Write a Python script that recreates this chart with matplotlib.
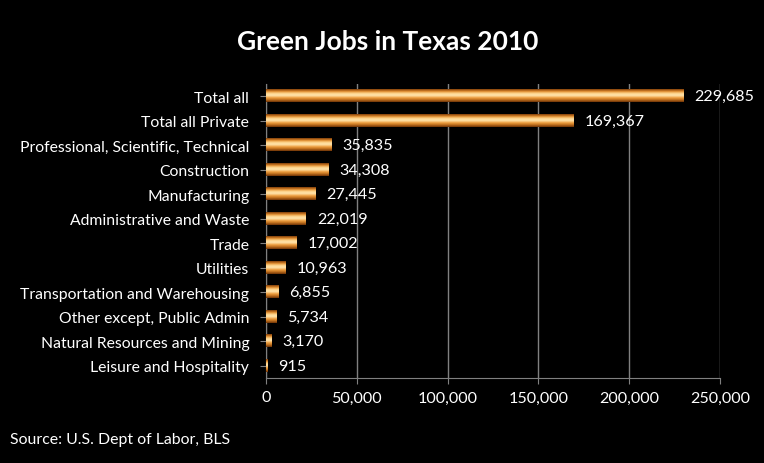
import numpy as np
import matplotlib.pyplot as plt
from matplotlib.colors import LinearSegmentedColormap

plt.rcParams['font.family'] = ['Lato', 'DejaVu Sans']

categories = [
    "Total all",
    "Total all Private",
    "Professional, Scientific, Technical",
    "Construction",
    "Manufacturing",
    "Administrative and Waste",
    "Trade",
    "Utilities",
    "Transportation and Warehousing",
    "Other except, Public Admin",
    "Natural Resources and Mining",
    "Leisure and Hospitality",
]
jobs = [229685, 169367, 35835, 34308, 27445, 22019, 17002, 10963, 6855, 5734, 3170, 915]
x_ticks = [0, 50000, 100000, 150000, 200000, 250000]

fig = plt.figure(figsize=(7.64, 4.64), dpi=100, facecolor='black')
ax = fig.add_axes([266 / 764, 1 - 379 / 464, 454 / 764, 294 / 464], facecolor='black')

# tube-like shading across each bar
tube = LinearSegmentedColormap.from_list(
    "tube", ["#7a3a08", "#e08a2a", "#ffd890", "#ffe6b0", "#f0a040", "#c0701e", "#6a3006"])
grad = np.linspace(0, 1, 64).reshape(-1, 1)

y = np.arange(len(categories))
h = 0.5
bars = ax.barh(y, jobs, height=h, color='#e89030', zorder=2)
for yi, v in zip(y, jobs):
    ax.imshow(grad, cmap=tube, aspect='auto', extent=[0, v, yi + h / 2, yi - h / 2],
              zorder=3, interpolation='bicubic')
    ax.text(v + 6000, yi, f"{v:,}", color='white', va='center', ha='left', fontsize=11.6, zorder=4)

ax.set_xlim(0, 250000)
ax.set_ylim(len(categories) - 0.5, -0.5)
ax.set_xticks(x_ticks)
ax.set_xticklabels([f"{t:,}" for t in x_ticks], color='white', fontsize=11.6)
ax.set_yticks(y)
ax.set_yticklabels(categories, color='white', fontsize=11.3)
ax.xaxis.grid(True, color='#808080', linewidth=1, zorder=0)
ax.tick_params(axis='x', length=4, color='#808080', pad=5)
ax.tick_params(axis='y', length=4, color='#808080', pad=8, direction='out')
for side in ['top', 'right']:
    ax.spines[side].set_visible(False)
ax.spines['left'].set_color('#808080')
ax.spines['bottom'].set_color('#808080')

fig.text(388 / 764, 1 - 42 / 464, "Green Jobs in Texas 2010", color='white', fontsize=19,
         fontweight='bold', ha='center', va='center')
fig.text(10 / 764, 1 - 440 / 464, "Source: U.S. Dept of Labor, BLS", color='white', fontsize=11.4,
         ha='left', va='center')

fig.savefig("out.png", dpi=100, facecolor='black')
